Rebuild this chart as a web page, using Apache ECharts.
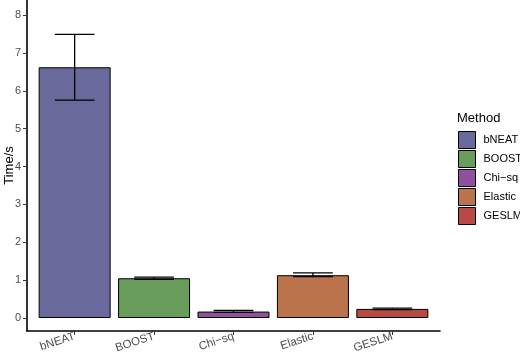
<!DOCTYPE html>
<html>
<head>
<meta charset="utf-8">
<script src="https://cdn.jsdelivr.net/npm/echarts@6/dist/echarts.min.js"></script>
<style>html,body{margin:0;padding:0;background:#fff;}#c{width:520px;height:356px;}</style>
</head>
<body>
<div id="c"></div>
<script>
const categories = ['bNEAT', 'BOOST', 'Chi\u2212sq', 'Elastic', 'GESLM'];
const times = [6.62, 1.05, 0.17, 1.13, 0.24];
const errLow = [5.75, 1.02, 0.15, 1.09, 0.22];
const errHigh = [7.49, 1.08, 0.20, 1.19, 0.26];
const colors = ['#6a699c', '#699c5b', '#8f509e', '#bb734b', '#b74a44'];
const yTicks = [0, 1, 2, 3, 4, 5, 6, 7, 8];

const font = 'Liberation Sans, Arial, sans-serif';
const chart = echarts.init(document.getElementById('c'));

const barSeries = categories.map((name, i) => ({
  name: name,
  type: 'bar',
  barWidth: 72,
  barGap: '-100%',
  data: [[i, times[i]]],
  itemStyle: { color: colors[i], borderColor: '#000', borderWidth: 1 },
  emphasis: { disabled: true },
  silent: true,
  animation: false
}));

const errSeries = {
  type: 'custom',
  silent: true,
  animation: false,
  data: categories.map((c, i) => [i, errLow[i], errHigh[i]]),
  encode: { x: 0, y: [1, 2] },
  renderItem: function (params, api) {
    const i = api.value(0), lo = api.value(1), hi = api.value(2);
    const pLo = api.coord([i, lo]), pHi = api.coord([i, hi]);
    const l = api.coord([i - 0.25, lo])[0], r = api.coord([i + 0.25, lo])[0];
    const style = { stroke: '#000', lineWidth: 1.3 };
    return {
      type: 'group',
      children: [
        { type: 'line', shape: { x1: pLo[0], y1: pLo[1], x2: pHi[0], y2: pHi[1] }, style: style },
        { type: 'line', shape: { x1: l, y1: pLo[1], x2: r, y2: pLo[1] }, style: style },
        { type: 'line', shape: { x1: l, y1: pHi[1], x2: r, y2: pHi[1] }, style: style }
      ]
    };
  },
  z: 5
};

chart.setOption({
  animation: false,
  backgroundColor: '#fff',
  title: {
    text: 'Method', left: 457, top: 112, padding: 0,
    textStyle: { fontFamily: font, fontSize: 13, fontWeight: 'normal', color: '#000' }
  },
  legend: {
    data: categories,
    orient: 'vertical', left: 458, top: 131, padding: 0,
    itemWidth: 17, itemHeight: 17, itemGap: 1,
    icon: 'rect',
    itemStyle: { borderColor: '#000', borderWidth: 1 },
    textStyle: { fontFamily: font, fontSize: 11, color: '#000', padding: [0, 0, 0, 3] },
    selectedMode: false
  },
  grid: { left: 27, right: 80, top: 0, bottom: 25, containLabel: false, outerBoundsMode: 'none' },
  xAxis: {
    type: 'value', min: -0.6, max: 4.6,
    splitLine: { show: false },
    axisLine: { show: true, onZero: false, lineStyle: { color: '#000', width: 1.6 } },
    axisTick: { show: true, length: 4, customValues: [0, 1, 2, 3, 4], lineStyle: { color: '#333' } },
    axisLabel: {
      customValues: [0, 1, 2, 3, 4],
      formatter: v => categories[Math.round(v)] || '',
      rotate: 18, margin: 5,
      fontFamily: font, fontSize: 11.5, color: '#4d4d4d'
    }
  },
  yAxis: {
    type: 'value', min: -0.343, max: 8.396,
    name: 'Time/s', nameLocation: 'middle', nameRotate: 90, nameGap: 11,
    nameMoveOverlap: false,
    nameTextStyle: { fontFamily: font, fontSize: 13, color: '#000' },
    splitLine: { show: false },
    axisLine: { show: true, onZero: false, lineStyle: { color: '#000', width: 1.6 } },
    axisTick: { show: true, length: 4, customValues: yTicks, lineStyle: { color: '#333' } },
    axisLabel: {
      customValues: yTicks, margin: 6,
      fontFamily: font, fontSize: 11, color: '#4d4d4d'
    }
  },
  series: barSeries.concat([errSeries])
});
</script>
</body>
</html>
